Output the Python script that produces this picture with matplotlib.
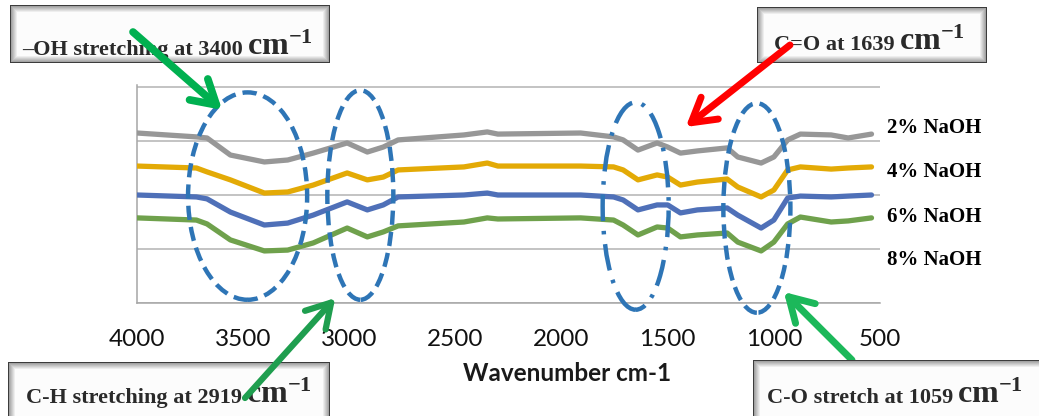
import matplotlib.pyplot as plt
from matplotlib.patches import Ellipse, Rectangle
import numpy as np

plt.rcParams['mathtext.fontset'] = 'custom'
plt.rcParams['mathtext.rm'] = 'Liberation Serif'
plt.rcParams['mathtext.default'] = 'regular'

W, H = 1039, 416

# FTIR spectra (arbitrary transmittance units)
wavenumber = [4000, 3720, 3670, 3560, 3400, 3290, 3170, 3010, 2915, 2840, 2770,
              2460, 2350, 2300, 1910, 1755, 1710, 1640, 1550, 1500, 1440, 1360,
              1220, 1170, 1060, 1000, 935, 875, 730, 650, 540]
naoh_2 = [78.7, 76.9, 76.4, 68.5, 65.3, 66.2, 69.4, 74.1, 69.9, 72.2, 75.5,
          77.8, 79.2, 78.2, 78.7, 76.9, 75.5, 70.8, 74.1, 72.2, 69.4, 70.4,
          71.8, 67.6, 64.8, 67.6, 75.5, 78.2, 77.8, 76.4, 78.2]
naoh_4 = [63.4, 62.5, 60.7, 57.0, 50.9, 51.4, 54.6, 60.2, 57.0, 58.3, 61.6,
          63.0, 64.8, 63.4, 63.4, 63.0, 61.6, 57.0, 59.3, 58.3, 54.6, 56.0,
          57.4, 53.7, 49.1, 52.3, 61.6, 63.0, 62.0, 62.5, 63.0]
naoh_6 = [50.0, 49.1, 48.2, 42.1, 36.1, 37.0, 40.7, 46.8, 43.1, 45.4, 49.1,
          50.0, 50.9, 50.0, 50.0, 49.1, 47.7, 43.1, 45.4, 45.4, 41.7, 43.1,
          44.0, 40.7, 34.7, 38.4, 48.6, 49.5, 49.1, 49.5, 50.0]
naoh_8 = [39.4, 38.4, 36.6, 29.2, 24.1, 24.5, 27.8, 34.7, 30.6, 32.9, 35.7,
          37.5, 39.4, 38.9, 39.4, 38.4, 36.1, 31.5, 35.2, 34.7, 30.6, 31.5,
          32.4, 28.2, 24.1, 28.2, 36.6, 39.8, 37.5, 38.0, 39.4]

series = [naoh_2, naoh_4, naoh_6, naoh_8]
series_labels = ["2% NaOH", "4% NaOH", "6% NaOH", "8% NaOH"]
series_colors = ["#979797", "#e3aa06", "#4f70b8", "#6fa14c"]
xticks = [4000, 3500, 3000, 2500, 2000, 1500, 1000, 500]

# highlighted bands: (centre wavenumber, centre y, width, height, style)
bands = [(3479, 49.5, 561, 96, "dash"),
         (2948, 50.0, 311, 97, "dash"),
         (1651, 44.9, 311, 96, "dashdot"),
         (1080, 44.0, 316, 97, "dash")]

fig = plt.figure(figsize=(W / 100, H / 100), dpi=100)

ax_l, ax_r, ax_b = 137, 880, 303
ax_t = ax_b - 216 * 1.01
ax = fig.add_axes([ax_l / W, (H - ax_b) / H, (ax_r - ax_l) / W, (ax_b - ax_t) / H])

for ys, c in zip(series, series_colors):
    ax.plot(wavenumber, ys, color=c, lw=3.8, solid_capstyle='round',
            solid_joinstyle='round', zorder=3)

ax.set_xlim(4000, 500)
ax.set_ylim(0, 101)
ax.set_yticks([0, 25, 50, 75, 100])
ax.set_yticklabels([])
ax.set_xticks(xticks)
ax.set_xticklabels([str(t) for t in xticks], fontsize=17.5, family='Lato',
                   color='#111111')
ax.tick_params(axis='both', length=0)
ax.tick_params(axis='x', pad=19)
ax.grid(axis='y', color='#b3b3b3', lw=1.1)
ax.set_axisbelow(True)
for s in ['top', 'right']:
    ax.spines[s].set_visible(False)
for s in ['left', 'bottom']:
    ax.spines[s].set_color('#a6a6a6')
    ax.spines[s].set_linewidth(1.1)

ax.set_xlabel("Wavenumber cm-1", fontsize=17.5, fontweight='bold', family='Lato',
              color='#1a1a1a', va='top')
ax.xaxis.set_label_coords((567 - ax_l) / (ax_r - ax_l), (ax_b - 362) / (ax_b - ax_t))

for cx, cy, w, h, style in bands:
    dashes = (3.2, 1.6) if style == "dash" else (6, 2.2, 0.8, 2.2)
    e = Ellipse((cx, cy), w, h, fill=False, edgecolor='#2e75b6', lw=3.2,
                clip_on=False, zorder=4)
    e.set_linestyle((0, dashes))
    ax.add_patch(e)

# overlay in figure pixels (y down) for boxes, labels and arrows
ov = fig.add_axes([0, 0, 1, 1], zorder=5)
ov.set_xlim(0, W)
ov.set_ylim(H, 0)
ov.axis('off')


def bevel_box(x0, y0, x1, y1):
    ov.add_patch(Rectangle((x0, y0), x1 - x0, y1 - y0, facecolor='#3c3c3c',
                           edgecolor='none', zorder=2))
    n = 7
    for i in range(1, n + 1):
        g = 0.58 + 0.41 * i / n
        ov.add_patch(Rectangle((x0 + i, y0 + i), x1 - x0 - 2 * i, y1 - y0 - 2 * i,
                               facecolor=(g, g, g), edgecolor='none', zorder=2))


# (box x0, y0, x1, y1, text, text right edge, baseline)
boxes = [(10, 5, 330, 63, "\u2013OH stretching at 3400", 243, 55),
         (757, 7, 987, 63, "C=O at 1639", 895, 50),
         (8, 362, 330, 430, "C-H stretching at 2919", 242, 403),
         (753, 360, 1050, 430, "C-O stretch at 1059", 953, 403)]

for x0, y0, x1, y1, txt, xr, yb in boxes:
    bevel_box(x0, y0, x1, y1)
    ov.text(xr, yb, txt, ha='right', va='baseline', fontsize=16, fontweight='bold',
            family='Liberation Serif', color='#2a2a2a', zorder=3)
    ov.text(xr + 4, yb, r"cm$^{-1}$", ha='left', va='baseline', fontsize=23,
            fontweight='bold', family='Liberation Serif', color='#2a2a2a', zorder=3)

label_baselines = [133, 177, 222, 265]
for lab, yb in zip(series_labels, label_baselines):
    ov.text(887, yb, lab, ha='left', va='baseline', fontsize=15, fontweight='bold',
            family='Liberation Serif', color='black')

# arrows: head in data coords, tail in figure pixels (y down)
arrows = [((3599, 89.4), (133, 32), '#00b050', 5.5, 4),
          ((1415, 81.5), (790, 45), '#ff0000', 5.0, 4),
          ((3066, 2.3), (245, 398), '#1f9e4f', 4.5, 4),
          ((953, 5.1), (852, 360), '#1cb85a', 5.0, 1.5)]

for head, tail, c, lw, z in arrows:
    hx, hy = ax.transData.transform(head)
    ov.annotate('', xy=(hx, H - hy), xytext=tail, xycoords='data', textcoords='data',
                arrowprops=dict(arrowstyle='->,head_length=0.85,head_width=0.5',
                                color=c, lw=lw, shrinkA=0, shrinkB=0,
                                mutation_scale=20, capstyle='round',
                                joinstyle='round'),
                zorder=z, annotation_clip=False)

fig.savefig("out.png", dpi=100)
